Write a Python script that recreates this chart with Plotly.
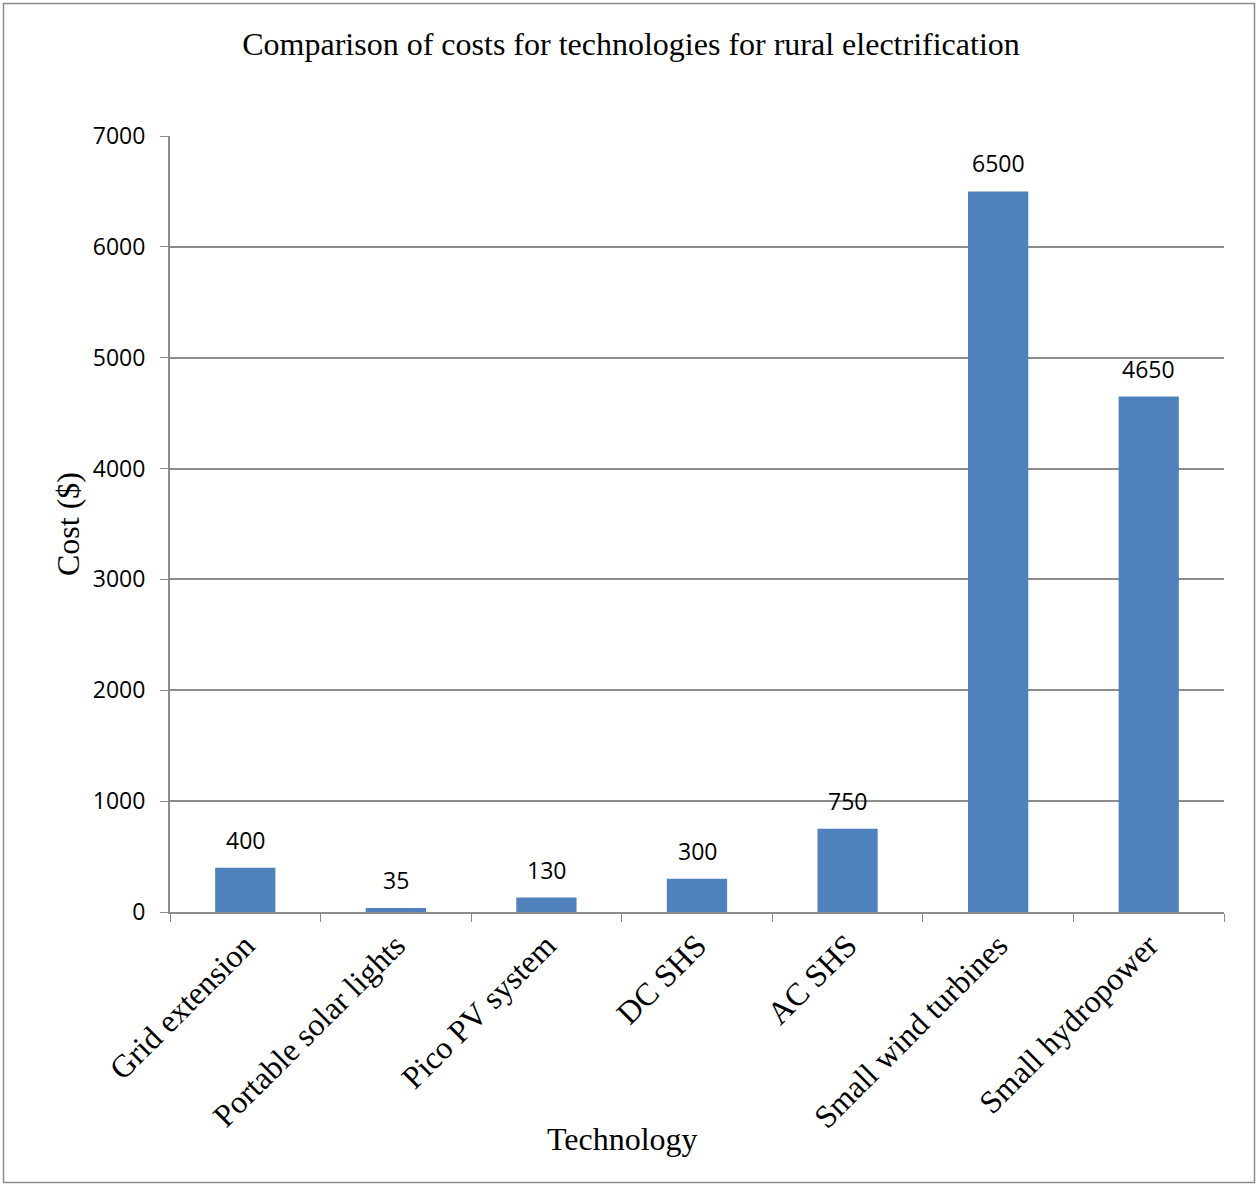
import plotly.graph_objects as go

categories = ["Grid extension", "Portable solar lights", "Pico PV system", "DC SHS",
              "AC SHS", "Small wind turbines", "Small hydropower"]
costs = [400, 35, 130, 300, 750, 6500, 4650]
y_ticks = [0, 1000, 2000, 3000, 4000, 5000, 6000, 7000]

W, H = 1257, 1184
ML, MR, MT, MB = 170, 33, 136, 272
PW, PH = W - ML - MR, H - MT - MB

grid = "#8c8c8c"
serif = "Liberation Serif, Times New Roman, serif"
sans = "Open Sans, Liberation Sans, sans-serif"

fig = go.Figure(go.Bar(
    x=categories, y=costs,
    marker=dict(color="#4F81BD", line=dict(width=0)),
    hoverinfo="x+y",
))

def px_x(p):
    return (p - ML) / PW

def px_y(p):
    return (H - MB - p) / PH

annotations = [
    dict(x=c, y=v, xref="x", yref="y", text=str(v), showarrow=False,
         yanchor="bottom", yshift=10, font=dict(family=sans, size=23, color="#000"))
    for c, v in zip(categories, costs)
]
annotations.append(dict(
    x=px_x(622), y=px_y(1139), xref="paper", yref="paper", text="Technology",
    showarrow=False, xanchor="center", yanchor="middle",
    font=dict(family=serif, size=32, color="#000")))

fig.update_layout(
    width=W, height=H,
    margin=dict(l=ML, r=MR, t=MT, b=MB),
    paper_bgcolor="white", plot_bgcolor="white",
    bargap=0.6,
    showlegend=False,
    title=dict(text="Comparison of costs for technologies for rural electrification",
               x=631 / W, xanchor="center", y=1 - 44 / H, yanchor="middle",
               font=dict(family=serif, size=32, color="#000")),
    xaxis=dict(
        tickangle=-45, tickson="boundaries", ticks="outside", ticklen=8,
        tickcolor=grid, showline=True, linecolor=grid, linewidth=2,
        tickfont=dict(family=serif, size=32, color="#000"),
        showgrid=False,
    ),
    yaxis=dict(
        range=[0, 7000], tickvals=y_ticks, ticks="outside", ticklen=8,
        tickcolor=grid, showline=True, linecolor=grid, linewidth=2,
        showgrid=True, gridcolor=grid, gridwidth=1.5, zeroline=False,
        tickfont=dict(family=sans, size=23, color="#000"),
        ticklabelstandoff=10,
        title=dict(text="Cost ($)", font=dict(family=serif, size=32, color="#000"), standoff=4),
    ),
    annotations=annotations,
    shapes=[dict(type="rect", xref="paper", yref="paper",
                 x0=px_x(3.5), x1=px_x(1254.5), y0=px_y(3.5), y1=px_y(1182.5),
                 line=dict(color="#8c8c8c", width=1.5), fillcolor="rgba(0,0,0,0)", layer="below")],
)

fig.write_html("out.html", config={"displayModeBar": False},
               post_script="document.body.style.margin='0';")
